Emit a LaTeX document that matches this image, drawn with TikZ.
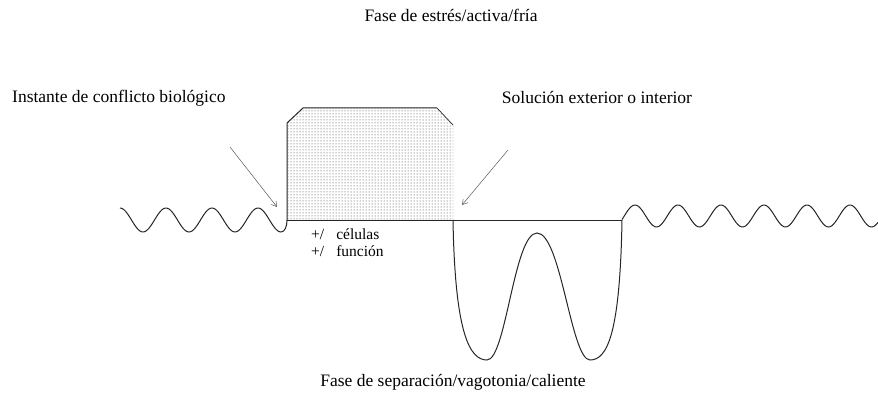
\documentclass[tikz,border=0pt]{standalone}
\usepackage{fontspec}
\setmainfont{Liberation Serif}
\usetikzlibrary{patterns,arrows.meta}

\tikzset{
    etiqueta/.style={font=\fontsize{17.5pt}{20pt}\selectfont, inner sep=0pt},
    flecha/.style={draw=black!65, line width=0.5pt, -{Straight Barb[length=5pt,width=6pt]}},
    curva/.style={draw=black!85, line width=1pt}
}

\begin{document}
\begin{tikzpicture}[x=1pt, y=-1pt]
        \useasboundingbox (0,0) rectangle (878,393);

        \node[etiqueta] (activa) at (451,15) {Fase de estrés/activa/fría};
        \node[etiqueta, anchor=west] (instante) at (12,98) {Instante de conflicto biológico};
        \node[etiqueta] (solucion) at (597,98) {Solución exterior o interior};
        \node[etiqueta] (separacion) at (453,382) {Fase de separación/vagotonia/caliente};
        \node[font=\fontsize{15.5pt}{17pt}\selectfont, inner sep=0pt, anchor=north west, align=left] (cambios) at (311,229) {+/\hspace{12pt}células\\+/\hspace{12pt}función};

        \path[pattern=dots, pattern color=black!80] (287,220) -- (287,123) -- (303,108) -- (437,108) -- (453,125) -- (453,220) -- cycle;
        \draw[curva] (287,220) -- (287,123) -- (303,108) -- (437,108);
        \draw[curva, line width=0.7pt] (437,108) -- (453,125);
        \draw[curva, line width=0.7pt] (287,220) -- (622,220);

        \draw[curva] plot[domain=120:281, samples=90, smooth] (\x, {220-12*cos((\x-120)/46*360)})
            .. controls (285,232) and (287,226) .. (287,220);
        \draw[curva] (453,220) .. controls (455,335) and (470,360) .. (487,360)
            .. controls (506,360) and (514,233) .. (537,233)
            .. controls (561,233) and (571,360) .. (590,360)
            .. controls (607,360) and (620,335) .. (622,220);
        \draw[curva] plot[domain=622:878, samples=140, smooth] (\x, {216-11*cos((\x-635)/43*360)});

        \coordinate (desde conflicto) at (230,147);
        \coordinate (conflicto) at (277,207);
        \coordinate (desde solucion) at (508,150);
        \coordinate (salida) at (462,205);
        \draw[flecha] (desde conflicto) -- (conflicto);
        \draw[flecha] (desde solucion) -- (salida);
    \end{tikzpicture}
\end{document}
